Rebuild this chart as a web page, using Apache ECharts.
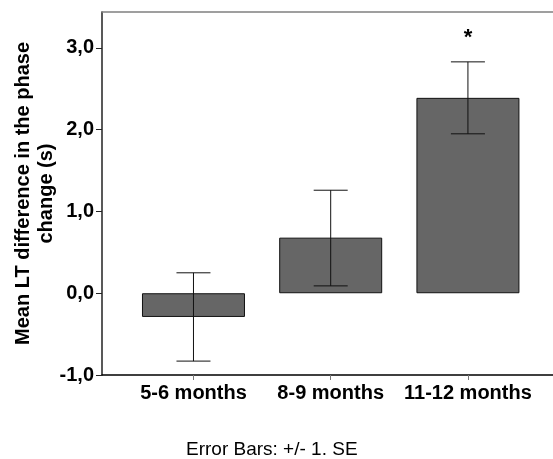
<!DOCTYPE html>
<html>
<head>
<meta charset="utf-8">
<script src="https://cdn.jsdelivr.net/npm/echarts@6/dist/echarts.min.js"></script>
<style>
  html, body { margin: 0; padding: 0; background: #fff; overflow: hidden; }
  #chart { width: 553px; height: 459px; }
</style>
</head>
<body>
<div id="chart"></div>
<script>
const categories = ['5-6 months', '8-9 months', '11-12 months'];
const positions = [1, 2, 3];
const means = [-0.29, 0.68, 2.39];
const lowerSE = [-0.83, 0.09, 1.95];
const upperSE = [0.25, 1.26, 2.83];
const marks = ['', '', '*'];
const yTicks = [-1, 0, 1, 2, 3];

const font = '"Liberation Sans", Arial, sans-serif';

const barData = positions.map((p, i) => [p, means[i]]);
const errData = positions.map((p, i) => [p, lowerSE[i], upperSE[i], marks[i]]);

const renderError = (params, api) => {
    const x = api.value(0);
    const lo = api.coord([x, api.value(1)]);
    const hi = api.coord([x, api.value(2)]);
    const cap = 17;
    const style = { stroke: '#111', lineWidth: 1 };
    const children = [
        { type: 'line', shape: { x1: hi[0], y1: hi[1], x2: lo[0], y2: lo[1] }, style },
        { type: 'line', shape: { x1: hi[0] - cap, y1: hi[1], x2: hi[0] + cap, y2: hi[1] }, style },
        { type: 'line', shape: { x1: lo[0] - cap, y1: lo[1], x2: lo[0] + cap, y2: lo[1] }, style }
    ];
    const mark = marks[params.dataIndex];
    if (mark) {
        children.push({
            type: 'text',
            style: {
                text: mark, x: hi[0], y: hi[1] - 13,
                align: 'center', verticalAlign: 'bottom',
                font: 'bold 22px ' + font, fill: '#000'
            }
        });
    }
    return { type: 'group', children };
};

// plot area runs past the right edge of the picture
const xMin = 1 / 3;
const xMax = 3.62;

const chart = echarts.init(document.getElementById('chart'));
chart.setOption({
    animation: false,
    backgroundColor: '#fff',
    grid: {
        left: 102, right: 0, top: 12, bottom: 84,
        outerBoundsMode: 'none',
        containLabel: false,
        show: false
    },
    xAxis: [{
        type: 'value',
        min: xMin,
        max: xMax,
        splitLine: { show: false },
        axisLine: { show: true, onZero: false, lineStyle: { color: '#000', width: 1.5 } },
        axisTick: { show: true, customValues: positions, length: 5, lineStyle: { color: '#777' } },
        axisLabel: {
            customValues: positions,
            formatter: v => categories[Math.round(v) - 1] || '',
            margin: 8,
            fontFamily: font, fontSize: 20, fontWeight: 'bold', color: '#000'
        }
    }, {
        // top frame line only
        type: 'value',
        position: 'top',
        min: xMin,
        max: xMax,
        splitLine: { show: false },
        axisLine: { show: true, onZero: false, lineStyle: { color: '#808080', width: 1.5 } },
        axisTick: { show: false },
        axisLabel: { show: false }
    }],
    yAxis: {
        type: 'value',
        min: -1,
        max: 3.44,
        interval: 1,
        name: 'Mean LT difference in the phase\nchange (s)',
        nameLocation: 'middle',
        nameRotate: 90,
        nameGap: 44,
        nameMoveOverlap: false,
        nameTextStyle: { fontFamily: font, fontSize: 20, fontWeight: 'bold', color: '#000', lineHeight: 23 },
        splitLine: { show: false },
        axisLine: { show: true, lineStyle: { color: '#222', width: 1.5 } },
        axisTick: { show: true, customValues: yTicks, length: 6, lineStyle: { color: '#222' } },
        axisLabel: {
            customValues: yTicks,
            formatter: v => v.toFixed(1).replace('.', ','),
            margin: 8,
            fontFamily: font, fontSize: 20, fontWeight: 'bold', color: '#000'
        }
    },
    graphic: [{
        type: 'text',
        left: 186,
        top: 440,
        style: { text: 'Error Bars: +/- 1. SE', font: '19px ' + font, fill: '#000' }
    }],
    series: [
        {
            type: 'bar',
            data: barData,
            barWidth: 103,
            itemStyle: { color: '#666666', borderColor: '#111', borderWidth: 1 }
        },
        {
            type: 'custom',
            data: errData,
            renderItem: renderError,
            encode: { x: 0, y: [1, 2] },
            z: 5
        }
    ]
});
</script>
</body>
</html>
